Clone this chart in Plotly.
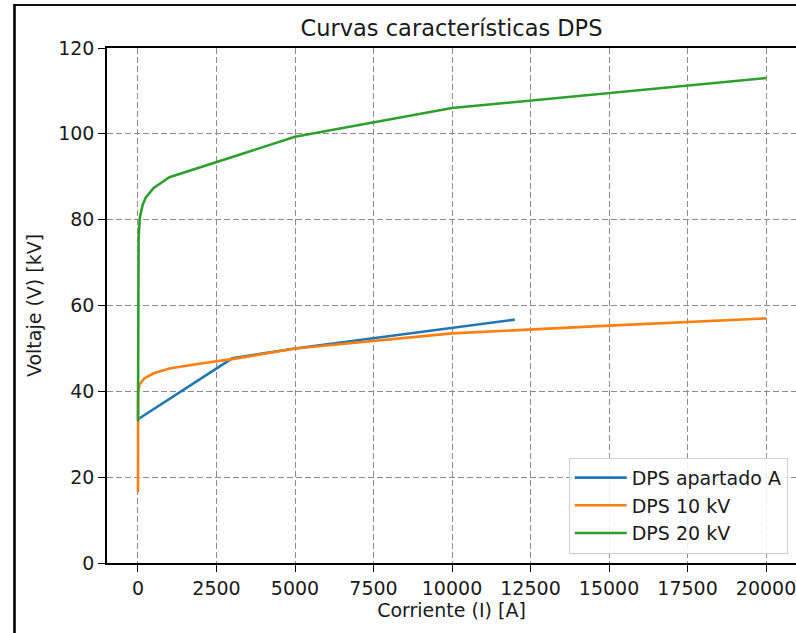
import plotly.graph_objects as go

# Data (current in A, voltage in kV)
i_apartado = [0, 3000, 5000, 12000]
v_apartado = [33.5, 47.7, 50.0, 56.7]

i_10kv = [0, 0, 5, 50, 200, 500, 1000, 2000, 3000, 5000, 10000, 15000, 20000]
v_10kv = [16.5, 35.0, 40.0, 41.6, 43.0, 44.2, 45.3, 46.5, 47.5, 50.0, 53.5, 55.3, 57.0]

i_20kv = [0, 0, 5, 20, 60, 150, 250, 500, 1000, 5000, 10000, 20000]
v_20kv = [33.0, 65.0, 72.0, 76.0, 80.5, 83.5, 85.2, 87.4, 89.9, 99.3, 106.0, 113.0]

series_names = ["DPS apartado A", "DPS 10 kV", "DPS 20 kV"]
series_colors = ["#1f77b4", "#ff7f0e", "#2ca02c"]

x_ticks = [0, 2500, 5000, 7500, 10000, 12500, 15000, 17500, 20000]
y_ticks = [0, 20, 40, 60, 80, 100, 120]

FONT = "DejaVu Sans"

fig = go.Figure()
for xs, ys, name, col in zip([i_apartado, i_10kv, i_20kv],
                             [v_apartado, v_10kv, v_20kv],
                             series_names, series_colors):
    fig.add_trace(go.Scatter(x=xs, y=ys, mode="lines", name=name,
                             line=dict(color=col, width=2.6)))

W, H = 796, 633
L, R, T, B = 107, 0, 48, 70

fig.update_layout(
    width=W, height=H,
    margin=dict(l=L, r=R, t=T, b=B, autoexpand=False),
    paper_bgcolor="white", plot_bgcolor="white",
    font=dict(family=FONT, size=19, color="#1a1a1a"),
    title=dict(text="Curvas características DPS", x=0.5, xref="paper",
               y=1 - 28 / H, yref="container", xanchor="center", yanchor="middle",
               font=dict(family=FONT, size=22.5, color="#1a1a1a")),
    showlegend=True,
    legend=dict(x=0.988, y=0.018, xanchor="right", yanchor="bottom",
                bgcolor="rgba(255,255,255,0.85)", bordercolor="#d0d0d0", borderwidth=1,
                font=dict(family=FONT, size=19, color="#1a1a1a"),
                tracegroupgap=0, itemwidth=52),
)

fig.update_xaxes(
    range=[-987, 20955], tickvals=x_ticks, ticktext=[str(v) for v in x_ticks],
    ticklabeloverflow="allow",
    showline=True, linecolor="black", linewidth=1.5, mirror=True,
    ticks="outside", ticklen=7, tickwidth=1.4, tickcolor="black",
    showgrid=True, gridcolor="#8c8c8c", gridwidth=1, griddash="6px,3px",
    zeroline=False,
    title=dict(text="Corriente (I) [A]", standoff=6,
               font=dict(family=FONT, size=19, color="#1a1a1a")),
    automargin=False,
)
fig.update_yaxes(
    range=[0, 120], tickvals=y_ticks, ticktext=[str(v) for v in y_ticks],
    showline=True, linecolor="black", linewidth=1.5, mirror=False,
    ticks="outside", ticklen=7, tickwidth=1.4, tickcolor="black",
    showgrid=True, gridcolor="#8c8c8c", gridwidth=1, griddash="6px,3px",
    zeroline=False,
    title=dict(text="Voltaje (V) [kV]", standoff=12,
               font=dict(family=FONT, size=19, color="#1a1a1a")),
    automargin=False,
)

# Outer black frame (top and left edges) of the original screenshot
pw, ph = W - L - R, H - T - B
def px2paper_x(px):
    return (px - L) / pw
def px2paper_y(py):
    return (H - B - py) / ph

fig.add_shape(type="line", xref="paper", yref="paper",
              x0=px2paper_x(13.5), x1=px2paper_x(800),
              y0=px2paper_y(5), y1=px2paper_y(5),
              line=dict(color="#111111", width=2))
fig.add_shape(type="line", xref="paper", yref="paper",
              x0=px2paper_x(14.5), x1=px2paper_x(14.5),
              y0=px2paper_y(4), y1=px2paper_y(640),
              line=dict(color="#000000", width=2.6))

fig.write_html("out.html")
